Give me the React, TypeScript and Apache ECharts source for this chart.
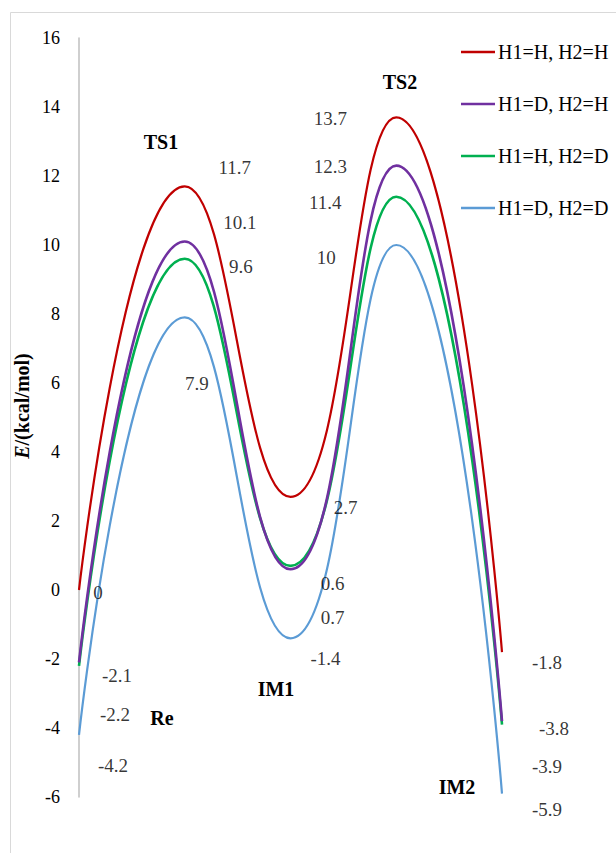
import React, { useEffect, useRef } from "react";
import * as echarts from "echarts";

const stages = ["Re", "TS1", "IM1", "TS2", "IM2"];
const seriesNames = ["H1=H, H2=H", "H1=D, H2=H", "H1=H, H2=D", "H1=D, H2=D"];
const hh = [0, 11.7, 2.7, 13.7, -1.8];
const dh = [-2.1, 10.1, 0.6, 12.3, -3.8];
const hd = [-2.2, 9.6, 0.7, 11.4, -3.9];
const dd = [-4.2, 7.9, -1.4, 10, -5.9];
const seriesValues = [hh, dh, hd, dd];
const yTicks = { min: -6, max: 16, interval: 2 };

// layout (pixel offsets of value labels from their points)
const labelOffsets = [
  [[19, 2], [50, -19], [55, 11], [-66, 1], [45, 10]],
  [[38, 13], [55, -19], [42, 14], [-66, 1], [52, 7]],
  [[36, 49], [56, 8], [42, 52], [-71, 6], [45, 42]],
  [[34, 31], [12, 66], [35, 20], [-70, 12], [45, 16]],
];
const stageLabelPos = [
  [162, 718],
  [161, 142],
  [276, 689],
  [400, 82],
  [457, 787],
];
const colors = ["#C00000", "#7030A0", "#00B050", "#5B9BD5"];
const widths = [2.2, 2.6, 2.6, 2.2];
const FONT = "Liberation Serif";

export default function App() {
  const ref = useRef<HTMLDivElement>(null);
  useEffect(() => {
    document.body.style.margin = "0";
    const chart = echarts.init(ref.current!, null, { renderer: "svg" });
    const lineSeries = seriesValues.map((vals, s) => ({
      type: "line",
      name: seriesNames[s],
      data: vals.map((v, i) => [i, v]),
      smooth: 0.5,
      symbol: "none",
      lineStyle: { color: colors[s], width: widths[s] },
      itemStyle: { color: colors[s] },
      z: 2 + (3 - s),
    }));
    const labelSeries = seriesValues.map((vals, s) => ({
      type: "scatter",
      name: "lbl" + s,
      symbolSize: 1,
      itemStyle: { color: "rgba(0,0,0,0)" },
      silent: true,
      z: 10,
      data: vals.map((v, i) => ({
        value: [i, v],
        label: {
          show: true,
          position: "inside",
          offset: labelOffsets[s][i],
          formatter: String(v),
          color: "#000",
          fontFamily: FONT,
          fontSize: 19,
          align: "center",
          verticalAlign: "middle",
        },
      })),
    }));
    chart.setOption({
      animation: false,
      backgroundColor: "#fff",
      textStyle: { fontFamily: FONT },
      grid: { left: 79, right: 114, top: 38, bottom: 56 },
      xAxis: { type: "value", min: 0, max: 4, show: false },
      yAxis: {
        type: "value",
        min: yTicks.min,
        max: yTicks.max,
        interval: yTicks.interval,
        axisLine: { show: true, lineStyle: { color: "#BFBFBF", width: 1.5 } },
        axisTick: { show: false },
        splitLine: { show: false },
        axisLabel: { color: "#000", fontFamily: FONT, fontSize: 18, margin: 19 },
      },
      legend: {
        data: seriesNames,
        orient: "vertical",
        left: 456,
        top: 37,
        icon: "rect",
        itemWidth: 34,
        itemHeight: 2.5,
        itemGap: 32,
        textStyle: { color: "#000", fontFamily: FONT, fontSize: 20, padding: [0, 0, 0, -2], lineHeight: 20 },
      },
      graphic: [
        {
          type: "rect",
          shape: { x: 10.5, y: 12.5, width: 800, height: 1000 },
          style: { fill: "none", stroke: "#D9D9D9", lineWidth: 1 },
          silent: true,
          z: -1,
        },
        {
          type: "text",
          x: 22,
          y: 406,
          rotation: Math.PI / 2,
          style: {
            text: "{i|E}{b|/(kcal/mol)}",
            align: "center",
            verticalAlign: "middle",
            rich: {
              i: { fontFamily: FONT, fontSize: 20, fontWeight: "bold", fontStyle: "italic", fill: "#000" },
              b: { fontFamily: FONT, fontSize: 20, fontWeight: "bold", fill: "#000" },
            },
          },
        },
        ...stages.map((t, i) => ({
          type: "text",
          x: stageLabelPos[i][0],
          y: stageLabelPos[i][1],
          style: {
            text: t,
            align: "center",
            verticalAlign: "middle",
            fontFamily: FONT,
            fontSize: 20,
            fontWeight: "bold",
            fill: "#000",
          },
        })),
      ],
      series: [...lineSeries, ...labelSeries],
    });
    return () => chart.dispose();
  }, []);
  return <div ref={ref} style={{ width: 616, height: 853, position: "absolute", left: 0, top: 0 }} />;
}
